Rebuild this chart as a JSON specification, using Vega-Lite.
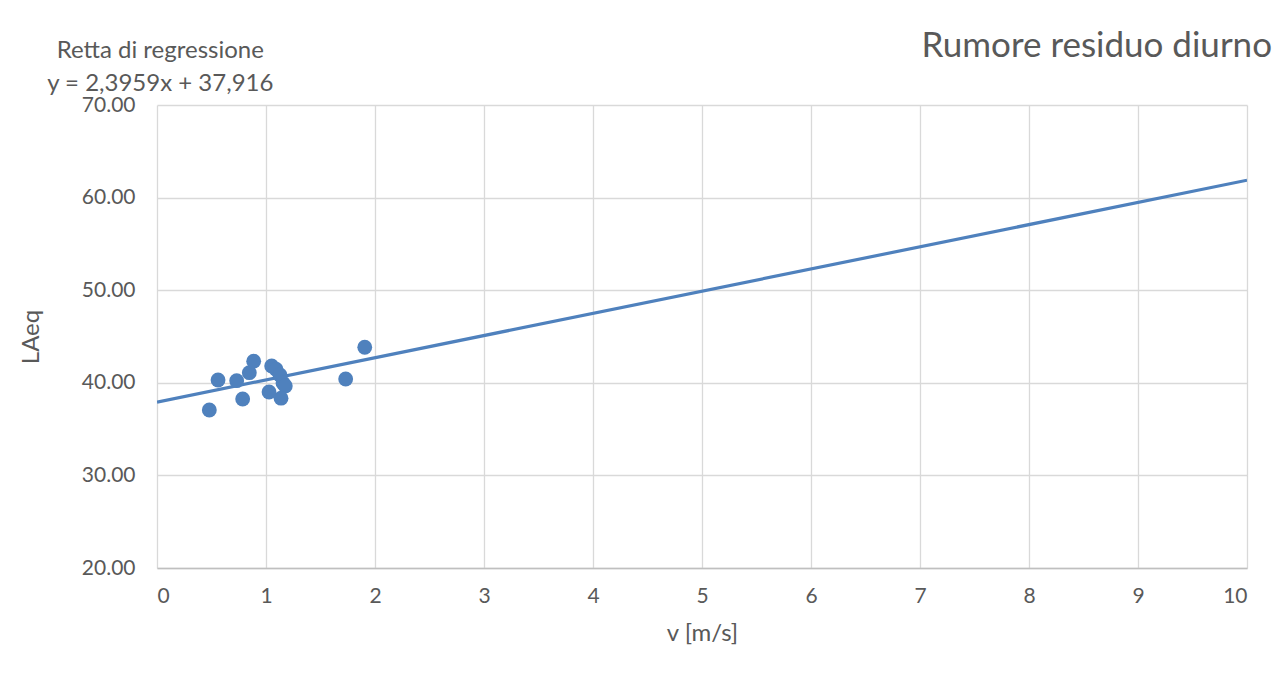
{
  "$schema": "https://vega.github.io/schema/vega-lite/v6.json",
  "autosize": "none",
  "width": 1090,
  "height": 463,
  "padding": {"left": 157, "top": 105, "right": 39, "bottom": 113},
  "background": "white",
  "config": {
    "font": "Lato",
    "view": {"stroke": null},
    "axis": {
      "labelFont": "Lato",
      "titleFont": "Lato",
      "labelColor": "#595959",
      "titleColor": "#595959",
      "labelFontSize": 21,
      "titleFontSize": 24,
      "titleFontWeight": "normal",
      "gridColor": "#d9d9d9",
      "gridWidth": 1.3,
      "tickSize": 0,
      "ticks": false
    },
    "title": {"font": "Lato", "fontWeight": "normal", "color": "#595959"}
  },
  "title": {
    "text": "Rumore residuo diurno",
    "anchor": "end",
    "fontSize": 35,
    "dx": 25,
    "dy": 38,
    "offset": 13
  },
  "datasets": {
    "points": [
      {"v": 0.48, "laeq": 37.06},
      {"v": 0.56, "laeq": 40.30},
      {"v": 0.731, "laeq": 40.23},
      {"v": 0.786, "laeq": 38.25},
      {"v": 0.847, "laeq": 41.09},
      {"v": 0.887, "laeq": 42.33},
      {"v": 1.028, "laeq": 39.01},
      {"v": 1.052, "laeq": 41.81},
      {"v": 1.092, "laeq": 41.46},
      {"v": 1.128, "laeq": 40.84},
      {"v": 1.156, "laeq": 39.98},
      {"v": 1.177, "laeq": 39.66},
      {"v": 1.138, "laeq": 38.34},
      {"v": 1.731, "laeq": 40.41},
      {"v": 1.906, "laeq": 43.84}
    ],
    "trend": [
      {"v": 0, "laeq": 37.916},
      {"v": 10, "laeq": 61.875}
    ]
  },
  "layer": [
    {
      "data": {"name": "trend"},
      "mark": {"type": "line", "color": "#4f81bd", "strokeWidth": 3.2, "clip": true},
      "encoding": {
        "x": {
          "field": "v",
          "type": "quantitative",
          "scale": {"domain": [0, 10], "nice": false, "zero": false},
          "axis": {
            "title": "v [m/s]",
            "values": [0, 1, 2, 3, 4, 5, 6, 7, 8, 9, 10],
            "format": "d",
            "labelPadding": 17,
            "titlePadding": 15,
            "domainColor": "#bfbfbf",
            "domainWidth": 1.5
          }
        },
        "y": {
          "field": "laeq",
          "type": "quantitative",
          "scale": {"domain": [20, 70], "nice": false, "zero": false},
          "axis": {
            "title": "LAeq",
            "values": [20, 30, 40, 50, 60, 70],
            "format": ".2f",
            "labelPadding": 22,
            "titlePadding": 38,
            "domain": false
          }
        }
      }
    },
    {
      "data": {"name": "points"},
      "mark": {"type": "circle", "color": "#4f81bd", "size": 220, "opacity": 1},
      "encoding": {
        "x": {"field": "v", "type": "quantitative"},
        "y": {"field": "laeq", "type": "quantitative"}
      }
    },
    {
      "data": {"values": [{"label": ["Retta di regressione", "y = 2,3959x + 37,916"]}]},
      "mark": {
        "type": "text",
        "font": "Lato",
        "fontSize": 24,
        "color": "#595959",
        "align": "center",
        "baseline": "alphabetic",
        "lineHeight": 33,
        "clip": false
      },
      "encoding": {
        "x": {"datum": 0.03},
        "y": {"datum": 75.1},
        "text": {"field": "label"}
      }
    }
  ]
}
